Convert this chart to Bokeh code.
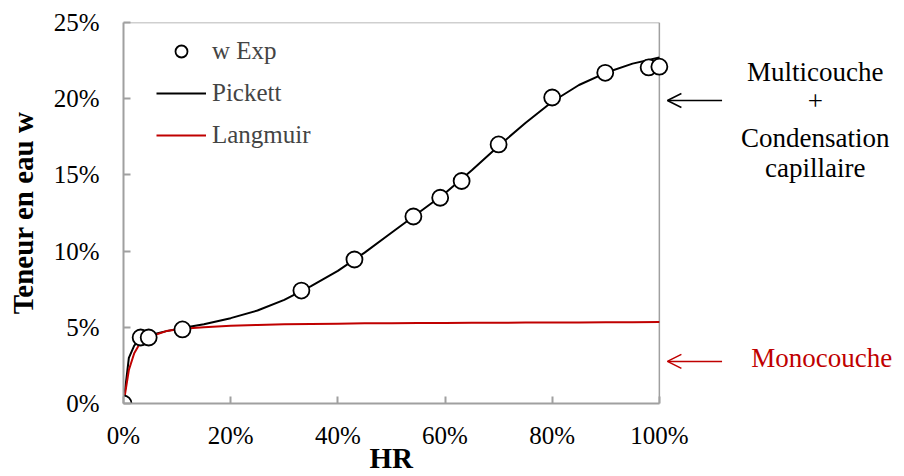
from bokeh.plotting import figure
from bokeh.models import (Range1d, FixedTicker, Legend, LegendItem, Label, Arrow,
                          OpenHead, ColumnDataSource, Title)
from bokeh.embed import file_html
from bokeh.resources import INLINE

# ---- data (percent units) ----
hr_exp = [0, 3.2, 4.7, 11, 33.2, 43.1, 54.1, 59.1, 63.1, 70, 80, 89.9, 98, 100]
w_exp = [0, 4.33, 4.33, 4.86, 7.41, 9.45, 12.27, 13.5, 14.6, 17.0, 20.08, 21.7, 22.05, 22.1]

hr_curve = [0, 1, 2, 3, 5, 8, 11, 15, 20, 25, 30, 35, 40, 45, 50, 55, 60, 65, 70, 75,
            80, 85, 90, 95, 100]
w_pickett = [0, 3.0, 3.8, 4.2, 4.5, 4.75, 4.95, 5.2, 5.6, 6.1, 6.8, 7.7, 8.7, 9.9, 11.2,
             12.5, 13.8, 15.3, 16.9, 18.4, 19.8, 20.9, 21.7, 22.3, 22.7]
w_langmuir = [0, 2.2, 3.3, 3.9, 4.4, 4.75, 4.9, 5.0, 5.1, 5.15, 5.2, 5.22, 5.24, 5.26, 5.27,
              5.28, 5.29, 5.3, 5.3, 5.31, 5.32, 5.32, 5.33, 5.33, 5.35]

x_ticks = [0, 20, 40, 60, 80, 100]
x_tick_labels = ["0%", "20%", "40%", "60%", "80%", "100%"]
y_ticks = [0, 5, 10, 15, 20, 25]
y_tick_labels = ["0%", "5%", "10%", "15%", "20%", "25%"]

multi_lines = ["Multicouche", "+", "Condensation", "capillaire"]
multi_y = [21.72, 19.88, 17.4, 15.45]
mono_text = "Monocouche"
mono_y = 3.0
arrow_y = [19.88, 2.76]

FONT = "Liberation Serif"
GRAY = "#A0A0A0"
RED = "#C00000"

X0, X1 = x_ticks[0], x_ticks[-1]
Y0, Y1 = y_ticks[0], y_ticks[-1]
# frame is widened to the right so the side notes (outside the 0-100% box) are not clipped
XMAX = 145

p = figure(width=904, height=476, output_backend="svg", toolbar_location=None,
           x_range=Range1d(X0, XMAX), y_range=Range1d(Y0, Y1),
           min_border_left=123, min_border_right=4, min_border_top=22, min_border_bottom=73)
p.background_fill_color = "white"
p.border_fill_color = "white"
p.outline_line_color = None
p.xgrid.visible = False
p.ygrid.visible = False

for ax in (p.xaxis[0], p.yaxis[0]):
    ax.axis_line_color = GRAY
    ax.axis_line_width = 2
    ax.major_tick_line_color = GRAY
    ax.major_tick_line_width = 2
    ax.major_tick_in = 7
    ax.major_tick_out = 0
    ax.minor_tick_line_color = None
    ax.major_label_text_font = FONT
    ax.major_label_text_font_size = "25px"
    ax.major_label_text_color = "black"
    ax.axis_label_text_font = FONT
    ax.axis_label_text_font_style = "bold"
    ax.axis_label_text_color = "black"

p.xaxis.ticker = FixedTicker(ticks=x_ticks)
p.xaxis.major_label_overrides = dict(zip(x_ticks, x_tick_labels))
p.xaxis.bounds = (X0, X1)
p.yaxis.ticker = FixedTicker(ticks=y_ticks)
p.yaxis.major_label_overrides = dict(zip(y_ticks, y_tick_labels))
p.yaxis.axis_label = "Teneur en eau w"
p.yaxis.axis_label_text_font_size = "29px"
p.xaxis.major_label_standoff = 18
p.yaxis.major_label_standoff = 24
p.yaxis.axis_label_standoff = 12

# x-axis title "HR", centred under the 0-100% box
p.add_layout(Title(text="HR", align="left", offset=246, vertical_align="top",
                   text_font=FONT, text_font_size="29px", text_font_style="bold",
                   text_color="black", standoff=-20), "below")

# top and right edges of the 0-100% box
p.line(x=[X0, X1], y=[Y1, Y1], line_color=GRAY, line_width=1.5)
p.line(x=[X1, X1], y=[Y0, Y1], line_color=GRAY, line_width=1.5)

src_c = ColumnDataSource(dict(x=hr_curve, p=w_pickett, l=w_langmuir))
src_e = ColumnDataSource(dict(x=hr_exp, y=w_exp))

r_pick = p.line("x", "p", source=src_c, line_color="black", line_width=2)
r_lang = p.line("x", "l", source=src_c, line_color=RED, line_width=2)
r_exp = p.scatter("x", "y", source=src_e, marker="circle", size=16,
                  fill_color="white", line_color="black", line_width=1.8)

legend = Legend(items=[
    LegendItem(label="w Exp", renderers=[r_exp]),
    LegendItem(label="Pickett", renderers=[r_pick]),
    LegendItem(label="Langmuir", renderers=[r_lang]),
], location=(33, 251))
legend.border_line_color = None
legend.background_fill_alpha = 0
legend.label_text_font = FONT
legend.label_text_font_size = "25px"
legend.label_height = 35
legend.glyph_height = 30
legend.glyph_width = 50
legend.spacing = 7
legend.label_standoff = 6
legend.padding = 8
p.add_layout(legend, "center")

# side annotations
p.add_layout(Arrow(end=OpenHead(size=14, line_color="black", line_width=1.5),
                   x_start=111.7, y_start=arrow_y[0], x_end=101.5, y_end=arrow_y[0],
                   line_color="black", line_width=1.5))
p.add_layout(Arrow(end=OpenHead(size=14, line_color=RED, line_width=1.5),
                   x_start=111.7, y_start=arrow_y[1], x_end=101.5, y_end=arrow_y[1],
                   line_color=RED, line_width=1.5))

for txt, yv in zip(multi_lines, multi_y):
    p.add_layout(Label(x=129.1, y=yv, text=txt, text_font=FONT, text_font_size="27px",
                       text_align="center", text_baseline="middle", text_color="black"))
p.add_layout(Label(x=130.3, y=mono_y, text=mono_text, text_font=FONT, text_font_size="27px",
                   text_align="center", text_baseline="middle", text_color=RED))

open("out.html", "w").write(file_html(p, INLINE))
